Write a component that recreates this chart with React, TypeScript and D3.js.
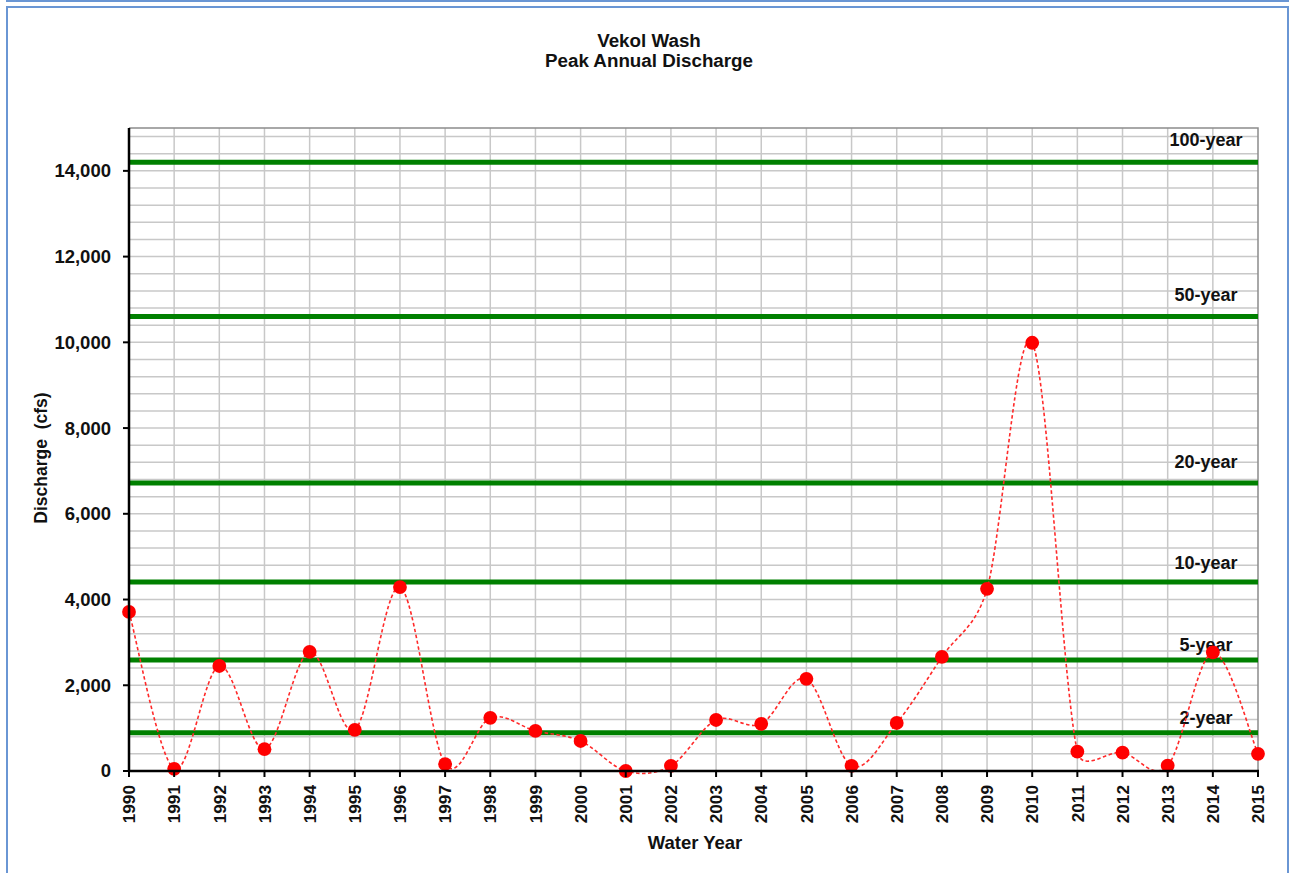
import React from "react";
import * as d3 from "d3";

const years: number[] = [1990,1991,1992,1993,1994,1995,1996,1997,1998,1999,2000,2001,2002,2003,2004,2005,2006,2007,2008,2009,2010,2011,2012,2013,2014,2015];
const discharge: number[] = [3710,50,2450,510,2780,960,4290,160,1240,935,700,0,120,1190,1100,2150,120,1120,2660,4250,9990,450,430,125,2765,400];

const returnLabels: string[] = ["100-year","50-year","20-year","10-year","5-year","2-year"];
const returnValues: number[] = [14200,10600,6720,4410,2590,890];

const yTicks: number[] = [0,2000,4000,6000,8000,10000,12000,14000];
const yMax = 15000;
const gridStep = 400;

const titleLines: string[] = ["Vekol Wash","Peak Annual Discharge"];
const xTitle = "Water Year";
const yTitle = "Discharge  (cfs)";

const FONT = "Arial, 'Liberation Sans', sans-serif";

// Spreadsheet-style smoothed line: cubic Bezier with 1/6 tangents, capped at half the segment length
function smoothPath(pts: [number, number][]): string {
  const p = d3.path();
  const n = pts.length;
  if (!n) return "";
  p.moveTo(pts[0][0], pts[0][1]);
  const dist = (a: [number, number], b: [number, number]) => Math.hypot(b[0] - a[0], b[1] - a[1]);
  for (let i = 0; i < n - 1; i++) {
    const P0 = pts[Math.max(i - 1, 0)], P1 = pts[i], P2 = pts[i + 1], P3 = pts[Math.min(i + 2, n - 1)];
    const d12 = dist(P1, P2), d02 = dist(P0, P2), d13 = dist(P1, P3);
    let f1 = 1 / 6, f2 = 1 / 6;
    if (d02 > 0 && d02 / 6 > d12 / 2) f1 = d12 / (2 * d02);
    if (d13 > 0 && d13 / 6 > d12 / 2) f2 = d12 / (2 * d13);
    const c1x = P1[0] + f1 * (P2[0] - P0[0]), c1y = P1[1] + f1 * (P2[1] - P0[1]);
    const c2x = P2[0] - f2 * (P3[0] - P1[0]), c2y = P2[1] - f2 * (P3[1] - P1[1]);
    p.bezierCurveTo(c1x, c1y, c2x, c2y, P2[0], P2[1]);
  }
  return p.toString();
}

export default function App() {
  const W = 1289, H = 873;
  const m = { left: 129, right: 1258, top: 128, bottom: 771 };
  const x = d3.scaleLinear().domain([years[0], years[years.length - 1]]).range([m.left, m.right]);
  const y = d3.scaleLinear().domain([0, yMax]).range([m.bottom, m.top]);
  const fmt = d3.format(",");

  const pts: [number, number][] = years.map((yr, i) => [x(yr), y(discharge[i])]);
  const line = smoothPath(pts);

  const hGrid = d3.range(gridStep, yMax, gridStep);
  const vGrid = years.slice(1, -1);
  const labelDy = [-16, -16, -15, -13, -9, -9];
  const labelX = x(2013.85);

  return (
    <div style={{ position: "absolute", left: 0, top: 0, width: W, height: H, background: "#fff" }}>
      <svg width={W} height={H} style={{ display: "block", fontFamily: FONT }}>
        <rect x={0} y={0} width={W} height={H} fill="#fff" />
        {/* frames */}
        <line x1={6} x2={W} y1={1} y2={1} stroke="#6a96d4" strokeWidth={2} />
        <path d={`M7,${H} L7,7 L1288,7 L1288,${H}`} fill="none" stroke="#6a96d4" strokeWidth={2} />

        {/* title */}
        {titleLines.map((t, i) => (
          <text key={t} x={649} y={46.5 + i * 20.5} textAnchor="middle" fontSize={18.8} fontWeight="bold" fill="#111">{t}</text>
        ))}

        {/* grid */}
        {hGrid.map(v => (
          <line key={"h" + v} x1={m.left} x2={m.right} y1={y(v)} y2={y(v)} stroke="#c8c8c8" strokeWidth={1.5} />
        ))}
        {vGrid.map(v => (
          <line key={"v" + v} x1={x(v)} x2={x(v)} y1={m.top} y2={m.bottom} stroke="#c8c8c8" strokeWidth={1.5} />
        ))}
        {/* plot border top/right */}
        <path d={`M${m.left},${m.top} L${m.right},${m.top} L${m.right},${m.bottom}`} fill="none" stroke="#8c8c8c" strokeWidth={1.5} />

        {/* return period lines */}
        {returnValues.map((v, i) => (
          <g key={returnLabels[i]}>
            <line x1={m.left} x2={m.right} y1={y(v)} y2={y(v)} stroke="#008000" strokeWidth={5} />
            <text x={labelX} y={y(v) + labelDy[i]} textAnchor="middle" fontSize={18} fontWeight="bold" fill="#111">{returnLabels[i]}</text>
          </g>
        ))}

        {/* series */}
        <path d={line} fill="none" stroke="#ff2a2a" strokeWidth={1.6} strokeDasharray="3.5,2.5" />
        {pts.map((p, i) => (
          <circle key={"c" + i} cx={p[0]} cy={p[1]} r={6.9} fill="#ff0000" />
        ))}

        {/* axes */}
        <line x1={m.left} x2={m.left} y1={m.top} y2={m.bottom + 1} stroke="#000" strokeWidth={2.5} />
        <line x1={m.left - 1} x2={m.right + 1} y1={m.bottom} y2={m.bottom} stroke="#000" strokeWidth={2.5} />
        {yTicks.map(v => (
          <g key={"yt" + v}>
            <line x1={m.left - 6} x2={m.left} y1={y(v)} y2={y(v)} stroke="#000" strokeWidth={2} />
            <text x={111} y={y(v)} dy="0.35em" textAnchor="end" fontSize={18.5} fontWeight="bold" fill="#111">{fmt(v)}</text>
          </g>
        ))}
        {years.map(yr => (
          <g key={"xt" + yr}>
            <line x1={x(yr)} x2={x(yr)} y1={m.bottom} y2={m.bottom + 6} stroke="#000" strokeWidth={2} />
            <text transform={`translate(${x(yr)},${785}) rotate(-90)`} dy="0.36em" textAnchor="end" fontSize={17.2} fontWeight="bold" fill="#111">{yr}</text>
          </g>
        ))}

        {/* axis titles */}
        <text x={695} y={849} textAnchor="middle" fontSize={18.5} fontWeight="bold" fill="#111">{xTitle}</text>
        <text transform="translate(41,458) rotate(-90)" dy="0.35em" textAnchor="middle" fontSize={17.5} fontWeight="bold" fill="#111" style={{ whiteSpace: "pre" }}>{yTitle}</text>
      </svg>
    </div>
  );
}
